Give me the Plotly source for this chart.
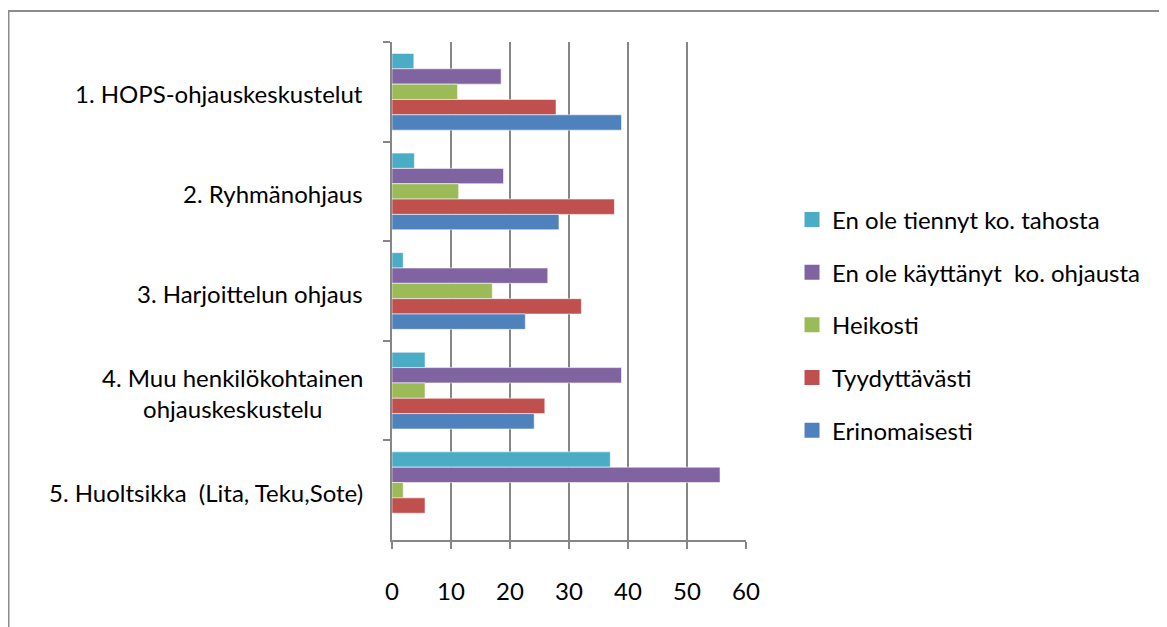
import plotly.graph_objects as go

categories = [
    "1. HOPS-ohjauskeskustelut",
    "2. Ryhmänohjaus",
    "3. Harjoittelun ohjaus",
    "4. Muu henkilökohtainen<br>ohjauskeskustelu",
    "5. Huoltsikka  (Lita, Teku,Sote)",
]

# series listed top-to-bottom inside each group (same as legend order)
series_names = [
    "En ole tiennyt ko. tahosta",
    "En ole käyttänyt \u00a0ko. ohjausta",
    "Heikosti",
    "Tyydyttävästi",
    "Erinomaisesti",
]
en_ole_tiennyt = [3.7, 3.8, 1.9, 5.6, 37.0]
en_ole_kayttanyt = [18.5, 18.9, 26.4, 38.9, 55.6]
heikosti = [11.1, 11.3, 17.0, 5.6, 1.9]
tyydyttavasti = [27.8, 37.7, 32.1, 25.9, 5.6]
erinomaisesti = [38.9, 28.3, 22.6, 24.1, 0.0]
series_values = [en_ole_tiennyt, en_ole_kayttanyt, heikosti, tyydyttavasti, erinomaisesti]
series_colors = ["#4BACC6", "#8064A2", "#9BBB59", "#C0504D", "#4F81BD"]

x_ticks = [0, 10, 20, 30, 40, 50, 60]

FONT = "Lato, 'Open Sans', sans-serif"
GREY = "#868686"

fig = go.Figure()
for i, (name, vals, color) in enumerate(zip(series_names, series_values, series_colors)):
    fig.add_trace(
        go.Bar(
            y=categories,
            x=vals,
            name=name,
            orientation="h",
            showlegend=False,
            marker={"color": color, "line": {"color": "rgba(255,255,255,0.55)", "width": 1}},
        )
    )
# legend entries with bigger square swatches
for i, (name, color) in enumerate(zip(series_names, series_colors)):
    fig.add_trace(
        go.Scatter(
            x=[None], y=[None], mode="markers", name=name,
            legendgroup=f"g{i}",
            marker={"symbol": "square", "size": 15, "color": color},
        )
    )

# category labels as centred multi-line text, right-aligned to the axis
for cat in categories:
    fig.add_annotation(
        x=0, xref="paper", xanchor="right", xshift=-27,
        y=cat, yref="y", yshift=-2,
        text=cat, showarrow=False, align="center",
        font={"family": FONT, "size": 24, "color": "#000000"},
    )

# outer chart border (page body has an 8px margin)
fig.add_shape(
    type="rect", xref="paper", yref="paper",
    x0=-1.0833, x1=2.5, y0=-0.3, y1=1.0622,
    line={"color": "#8C8C8C", "width": 2}, fillcolor="rgba(0,0,0,0)", layer="below",
)

fig.update_layout(
    width=1159,
    height=619,
    barmode="group",
    bargap=0.23,
    bargroupgap=0,
    plot_bgcolor="white",
    paper_bgcolor="white",
    margin={"l": 384, "r": 421, "t": 34, "b": 87, "autoexpand": False},
    font={"family": FONT, "size": 24, "color": "#000000"},
    legend={
        "x": 1.13, "xanchor": "left",
        "y": 0.432, "yanchor": "middle",
        "traceorder": "grouped",
        "tracegroupgap": 18.5,
        "font": {"family": FONT, "size": 24, "color": "#000000"},
        "itemwidth": 30,
    },
    xaxis={
        "range": [0, 60],
        "tickvals": x_ticks,
        "showgrid": True,
        "gridcolor": GREY,
        "gridwidth": 2,
        "showline": True,
        "linecolor": GREY,
        "linewidth": 2,
        "ticks": "outside",
        "ticklen": 7,
        "tickwidth": 2,
        "tickcolor": GREY,
        "zeroline": False,
        "ticklabelstandoff": 22,
        "tickfont": {"family": FONT, "size": 24},
    },
    yaxis={
        "autorange": "reversed",
        "showticklabels": False,
        "showline": True,
        "linecolor": GREY,
        "linewidth": 2,
        "ticks": "outside",
        "tickson": "boundaries",
        "ticklen": 7,
        "tickwidth": 2,
        "tickcolor": GREY,
        "showgrid": False,
    },
)

fig.write_html("out.html")
